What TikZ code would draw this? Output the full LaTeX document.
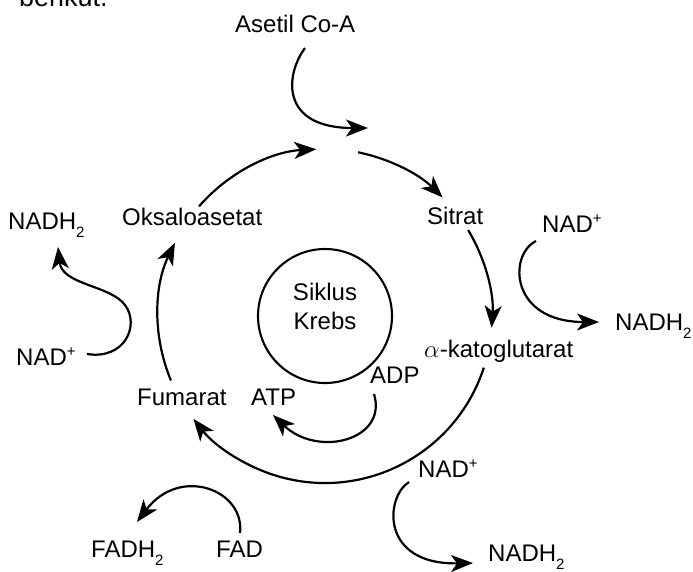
\documentclass[tikz,border=0pt]{standalone}
\usepackage{fontspec}
\setmainfont{Liberation Sans}
\usetikzlibrary{arrows.meta}
\newcommand{\subtwo}{\raisebox{-8pt}{\fontsize{15}{15}\selectfont 2}}
\newcommand{\supplus}{\raisebox{9pt}{\fontsize{15}{15}\selectfont +}}
\begin{document}
\begin{tikzpicture}[x=1pt,y=1pt,
  lbl/.style={inner sep=0pt, anchor=base west, font=\fontsize{24}{28}\selectfont},
  clbl/.style={inner sep=0pt, anchor=base, font=\fontsize{24}{28}\selectfont},
  arr/.style={line width=2.2pt, -{Stealth[length=22pt,width=17pt,inset=6pt]}},
  ring/.style={circle, draw, line width=2.1pt, minimum size=134pt, inner sep=0pt}]
\useasboundingbox (0,0) rectangle (693,-571);
% cut-off heading
\node[lbl, font=\fontsize{27}{30}\selectfont] (berikut) at (19,-6) {berikut.};
% labels
\node[lbl] (asetil) at (235,-32) {Asetil Co-A};
\node[lbl] (oksa) at (122,-225) {Oksaloasetat};
\node[lbl] (nadhL) at (8,-229) {NADH\subtwo};
\node[lbl] (sitrat) at (427,-224) {Sitrat};
\node[lbl] (nadR) at (542,-232) {NAD\supplus};
\node[lbl] (nadhR) at (615,-330) {NADH\subtwo};
\node[lbl] (akg) at (424,-357) {$\alpha$-katoglutarat};
\node[lbl] (adp) at (370,-383) {ADP};
\node[lbl] (atp) at (251,-405) {ATP};
\node[lbl] (fumarat) at (137,-405) {Fumarat};
\node[lbl] (nadL) at (16,-365) {NAD\supplus};
\node[lbl] (nadB) at (418,-477) {NAD\supplus};
\node[lbl] (nadhB) at (488,-561) {NADH\subtwo};
\node[lbl] (fadh) at (91,-557) {FADH\subtwo};
\node[lbl] (fad) at (216,-557) {FAD};
% central circle
\node[ring] (krebs) at (325,-316) {};
\node[clbl] (siklusT) at (325,-300) {Siklus};
\node[clbl] (krebsT) at (325,-329) {Krebs};
% cycle
\coordinate (C) at (325,-316);
\coordinate (o1) at ([shift={(139:167pt)}]C);
\coordinate (t1) at ([shift={(78.6:167pt)}]C);
\coordinate (s1) at ([shift={(31:167pt)}]C);
\coordinate (k1) at ([shift={(-18:167pt)}]C);
\coordinate (f1) at ([shift={(202.7:167pt)}]C);
\draw[arr] (o1) arc[start angle=139, end angle=93, radius=167pt];
\draw[arr] (t1) arc[start angle=78.6, end angle=45.2, radius=167pt];
\draw[arr] (s1) arc[start angle=31, end angle=-4, radius=167pt];
\draw[arr] (k1) arc[start angle=-18, end angle=-142, radius=167pt];
\draw[arr] (f1) arc[start angle=202.7, end angle=154, radius=167pt];
% side reactions
\coordinate (aS) at (305,-48);
\coordinate (aE) at (368,-128);
\draw[arr] (aS) .. controls (285,-75) and (280,-128) .. (aE);
\coordinate (nlS) at (87,-354);
\coordinate (nlE) at (58,-247);
\draw[arr] (nlS) .. controls (125,-360) and (140,-325) .. (125,-305)
  .. controls (110,-285) and (62,-285) .. (nlE);
\coordinate (nrS) at (536,-241);
\coordinate (nrE) at (599,-322);
\draw[arr] (nrS) .. controls (508,-255) and (510,-322) .. (nrE);
\coordinate (adS) at (374,-394);
\coordinate (adE) at (273,-415);
\draw[arr] (adS) .. controls (388,-440) and (318,-458) .. (adE);
\coordinate (nbS) at (409,-482);
\coordinate (nbE) at (473,-563);
\draw[arr] (nbS) .. controls (385,-497) and (380,-565) .. (nbE);
\coordinate (fdS) at (240,-533);
\coordinate (fdE) at (137,-522);
\draw[arr] (fdS) .. controls (245,-490) and (180,-465) .. (fdE);
\end{tikzpicture}
\end{document}
